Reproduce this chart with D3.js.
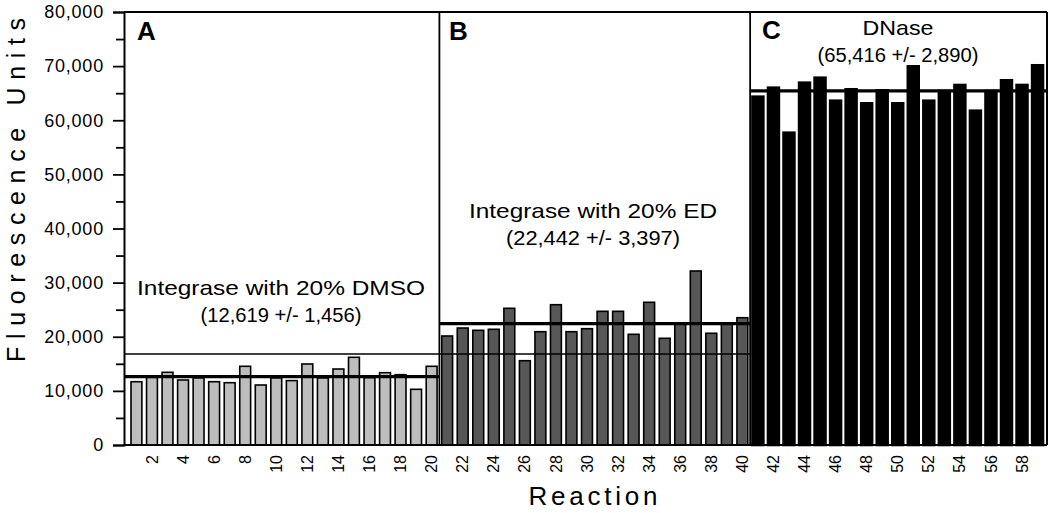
<!DOCTYPE html>
<html>
<head>
<meta charset="utf-8">
<script src="https://cdn.jsdelivr.net/npm/d3@7"></script>
<style>
  html, body { margin: 0; padding: 0; background: #fff; }
  svg { display: block; font-family: "Liberation Sans", Arial, sans-serif; }
</style>
</head>
<body>
<svg id="chart" width="1050" height="513"></svg>
<script>
// ---- Data ----
const panelA = [11695, 12500, 13430, 12010, 12400, 11695, 11510, 14540, 11085, 12400,
                11900, 14965, 12400, 14040, 16200, 12450, 13360, 12990, 10290, 14540];
const panelB = [20140, 21615, 21190, 21375, 25255, 15575, 20935, 25920, 20935, 21490,
                24700, 24700, 20450, 26365, 19715, 22500, 32150, 20640, 22500, 23520];
const panelC = [64355, 66015, 57700, 66940, 67860, 63610, 65720, 63130, 65535, 63130,
                69970, 63610, 65400, 66515, 61765, 65400, 67380, 66515, 70155];
const panelLetters = ["A", "B", "C"];
const panelTitles = ["Integrase with 20% DMSO", "Integrase with 20% ED", "DNase"];
const panelStats = ["(12,619 +/- 1,456)", "(22,442 +/- 3,397)", "(65,416 +/- 2,890)"];
const panelMeans = [12619, 22442, 65416];
const threshold = 16800;
const yTicks = [0, 10000, 20000, 30000, 40000, 50000, 60000, 70000, 80000];
const yMinorTicks = [5000, 15000, 25000, 35000, 45000, 55000, 65000, 75000];
const xTickLabels = d3.range(2, 59, 2);
const yTitle = "Fluorescence Units";
const xTitle = "Reaction";

(function () {
// ---- Build ----
const panels = [panelA, panelB, panelC];
const fills = ["#bdbdbd", "#575757", "#000000"];
const strokeW = [1.6, 1.6, 2.6];
const bars = [];
panels.forEach((vals, p) => {
  vals.forEach(v => bars.push({ r: bars.length + 1, v, p }));
});
const reactions = bars.map(d => d.r);

const svg = d3.select("#chart");
const pLeft = 124, pRight = 1047, pTop = 12, pBottom = 445;

const x = d3.scaleBand().domain(reactions).range([131, 1043]).paddingInner(0.3).paddingOuter(0);
const y = d3.scaleLinear().domain([0, 80000]).range([pBottom, pTop]);

const step = x.step(), bw = x.bandwidth();
const boundary = r => x(r) + bw + (step - bw) / 2;
const panelX = [[pLeft, boundary(20)], [boundary(20), boundary(40)], [boundary(40), pRight]];

// bars
svg.append("g").selectAll("rect").data(bars).join("rect")
  .attr("x", d => x(d.r))
  .attr("y", d => y(d.v))
  .attr("width", bw)
  .attr("height", d => y(0) - y(d.v))
  .attr("fill", d => fills[d.p])
  .attr("stroke", "#000")
  .attr("stroke-width", d => strokeW[d.p]);

// threshold thin line across A and B
svg.append("line")
  .attr("x1", pLeft).attr("x2", panelX[1][1])
  .attr("y1", y(threshold)).attr("y2", y(threshold))
  .attr("stroke", "#000").attr("stroke-width", 1.6);

// mean lines
svg.append("g").selectAll("line").data(panelMeans).join("line")
  .attr("x1", (d, i) => panelX[i][0]).attr("x2", (d, i) => panelX[i][1])
  .attr("y1", d => y(d)).attr("y2", d => y(d))
  .attr("stroke", "#000").attr("stroke-width", 3.2);

// frame: top, right, dividers
svg.append("line").attr("x1", pLeft).attr("x2", pRight).attr("y1", pTop).attr("y2", pTop)
  .attr("stroke", "#000").attr("stroke-width", 2);
svg.append("line").attr("x1", pRight).attr("x2", pRight).attr("y1", pTop).attr("y2", pBottom)
  .attr("stroke", "#000").attr("stroke-width", 2);
[panelX[0][1], panelX[1][1]].forEach(xx => {
  svg.append("line").attr("x1", xx).attr("x2", xx).attr("y1", pTop).attr("y2", pBottom)
    .attr("stroke", "#000").attr("stroke-width", 1.8);
});

// y axis
const yAxis = d3.axisLeft(y).tickValues(yTicks).tickFormat(d3.format(",")).tickSize(11).tickPadding(9);
const gy = svg.append("g").attr("transform", `translate(${pLeft},0)`).call(yAxis);
gy.select(".domain").attr("stroke-width", 2);
gy.selectAll(".tick line").attr("stroke-width", 1.8);
gy.selectAll(".tick text").attr("font-size", 18).attr("fill", "#000")
  .style("letter-spacing", "0.8px").attr("font-family", "Liberation Sans, Arial, sans-serif");
svg.append("g").attr("transform", `translate(${pLeft},0)`)
  .call(d3.axisLeft(y).tickValues(yMinorTicks).tickSize(8).tickFormat(""))
  .call(g => g.select(".domain").remove())
  .selectAll(".tick line").attr("stroke-width", 1.8);

// x axis baseline
svg.append("line").attr("x1", pLeft).attr("x2", pRight).attr("y1", pBottom).attr("y2", pBottom)
  .attr("stroke", "#000").attr("stroke-width", 2);

// x tick labels (rotated)
svg.append("g").selectAll("text").data(xTickLabels).join("text")
  .attr("transform", d => `translate(${x(d) + bw / 2},455) rotate(-90)`)
  .attr("text-anchor", "end")
  .attr("dy", "0.35em")
  .attr("font-size", 16)
  .text(d => d);

// panel letters
const letterPos = [[137, 40], [449, 40], [762, 39]];
svg.append("g").selectAll("text").data(panelLetters).join("text")
  .attr("x", (d, i) => letterPos[i][0]).attr("y", (d, i) => letterPos[i][1])
  .attr("font-size", 26).attr("font-weight", "bold").text(d => d);

// annotations
const annot = [
  { cx: 281, y1: 295, y2: 322, w1: 288, w2: 161 },
  { cx: 593, y1: 218, y2: 245, w1: 248, w2: 174 },
  { cx: 898, y1: 35, y2: 62, w1: 71, w2: 161 }
];
annot.forEach((a, i) => {
  svg.append("text").attr("x", a.cx).attr("y", a.y1).attr("text-anchor", "middle")
    .attr("font-size", 21).attr("textLength", a.w1).attr("lengthAdjust", "spacingAndGlyphs")
    .text(panelTitles[i]);
  svg.append("text").attr("x", a.cx).attr("y", a.y2).attr("text-anchor", "middle")
    .attr("font-size", 20).attr("textLength", a.w2).attr("lengthAdjust", "spacingAndGlyphs")
    .text(panelStats[i]);
});

// axis titles
svg.append("text")
  .attr("transform", "translate(25,190) rotate(-90)")
  .attr("text-anchor", "middle")
  .attr("font-size", 25)
  .attr("textLength", 344).attr("lengthAdjust", "spacing")
  .text(yTitle);
svg.append("text")
  .attr("x", 593).attr("y", 505)
  .attr("text-anchor", "middle")
  .attr("font-size", 26)
  .attr("textLength", 129).attr("lengthAdjust", "spacing")
  .text(xTitle);
})();
</script>
</body>
</html>
